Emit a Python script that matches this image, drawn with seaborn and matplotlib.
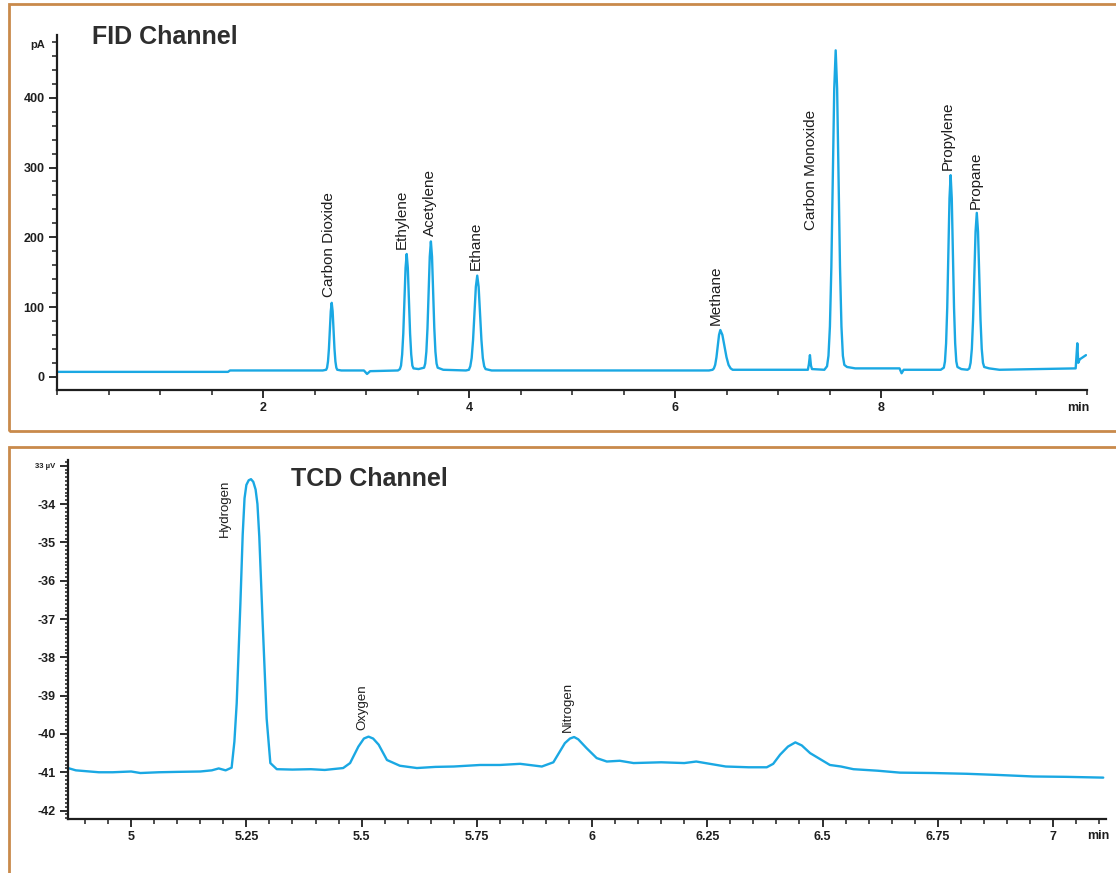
import matplotlib
matplotlib.use("Agg")
import matplotlib.pyplot as plt
import seaborn as sns
from matplotlib import font_manager
from matplotlib.patches import Rectangle
from matplotlib.ticker import MultipleLocator

# FID trace (min, pA)
fid_time = [0.0, 1.66, 1.68, 2.58,
            2.613, 2.622, 2.631, 2.640, 2.649, 2.658, 2.667, 2.676, 2.685, 2.694, 2.703, 2.712, 2.721,
            2.76, 2.98, 3.01, 3.04, 3.31,
            3.329, 3.340, 3.351, 3.362, 3.373, 3.384, 3.395, 3.406, 3.417, 3.428, 3.439, 3.450, 3.461,
            3.51,
            3.564, 3.575, 3.586, 3.597, 3.608, 3.619, 3.63, 3.641, 3.652, 3.663, 3.674, 3.685, 3.696,
            3.75, 3.97,
            3.999, 4.0125, 4.026, 4.0395, 4.053, 4.0665, 4.08, 4.0935, 4.107, 4.1205, 4.134, 4.1475, 4.161,
            4.22, 6.33,
            6.365, 6.3775, 6.39, 6.4025, 6.415, 6.4275, 6.44, 6.46, 6.48, 6.50, 6.52, 6.54, 6.56,
            6.65, 7.29, 7.30, 7.31, 7.32, 7.33, 7.45,
            7.476, 7.49, 7.504, 7.518, 7.532, 7.546, 7.56, 7.574, 7.588, 7.602, 7.616, 7.63, 7.644,
            7.67, 7.75, 8.18, 8.20, 8.22, 8.58,
            8.61, 8.621, 8.632, 8.643, 8.654, 8.665, 8.676, 8.687, 8.698, 8.709, 8.72, 8.731, 8.742,
            8.78, 8.84,
            8.858, 8.87, 8.882, 8.894, 8.906, 8.918, 8.93, 8.942, 8.954, 8.966, 8.978, 8.99, 9.002,
            9.05, 9.15, 9.89, 9.906, 9.915, 9.93, 9.96, 9.99]
fid_signal = [7, 7, 9, 9,
              10, 13, 22, 40, 68, 94, 106, 94, 68, 40, 22, 13, 10,
              9, 9, 4, 8, 9,
              11, 16, 32, 62, 111, 156, 176, 156, 111, 62, 32, 16, 12,
              11,
              13, 19, 36, 70, 123, 172, 194, 172, 123, 70, 36, 19, 13,
              10, 9,
              10, 15, 27, 53, 92, 129, 145, 129, 92, 53, 27, 15, 11,
              9, 9,
              10, 12, 17, 28, 44, 60, 67, 60, 44, 28, 17, 12, 10,
              10, 10, 18, 31, 16, 11, 10,
              15, 30, 72, 157, 289, 413, 468, 413, 289, 157, 72, 30, 17,
              14, 12, 12, 5, 10, 10,
              13, 22, 48, 99, 180, 256, 289, 256, 180, 99, 48, 22, 14,
              11, 10,
              12, 20, 40, 82, 147, 208, 235, 208, 147, 82, 40, 20, 14,
              12, 10, 12, 48, 20, 25, 28, 31]

fid_peak_names = ["Carbon Dioxide", "Ethylene", "Acetylene", "Ethane", "Methane",
                  "Carbon Monoxide", "Propylene", "Propane"]
fid_peak_time = [2.667, 3.395, 3.63, 4.08, 6.44, 7.56, 8.676, 8.93]
fid_peak_height = [106, 176, 194, 145, 67, 468, 289, 235]

# TCD trace (min, uV)
tcd_time = [4.863, 4.88, 4.90, 4.93, 4.96, 5.0, 5.02, 5.06, 5.10, 5.15, 5.175, 5.19, 5.205,
            5.218, 5.224, 5.229, 5.237, 5.242, 5.246, 5.250, 5.255, 5.260, 5.265, 5.270, 5.274,
            5.278, 5.285, 5.294, 5.302, 5.316, 5.35, 5.39, 5.42, 5.46, 5.475, 5.493, 5.505, 5.515,
            5.525, 5.537, 5.555, 5.583, 5.62, 5.66, 5.70, 5.757, 5.80, 5.844, 5.891, 5.916,
            5.941, 5.952, 5.961, 5.97, 5.988, 6.01, 6.032, 6.06, 6.09, 6.15, 6.20, 6.226,
            6.29, 6.34, 6.379, 6.393, 6.408, 6.425, 6.441, 6.455, 6.473, 6.516, 6.54, 6.567,
            6.62, 6.668, 6.74, 6.813, 6.88, 6.957, 7.03, 7.109]
tcd_signal = [-40.89, -40.95, -40.97, -41.0, -41.0, -40.98, -41.02, -41.0, -40.99, -40.98,
              -40.95, -40.9, -40.95, -40.88, -40.2, -39.2, -36.6, -34.8, -33.85, -33.5,
              -33.38, -33.35, -33.42, -33.62, -34.0, -34.85, -37.0, -39.6, -40.76, -40.92,
              -40.93, -40.92, -40.94, -40.89, -40.76, -40.33, -40.12, -40.07, -40.12, -40.28,
              -40.68, -40.83, -40.89, -40.86, -40.85, -40.81, -40.81, -40.78, -40.85, -40.74,
              -40.24, -40.12, -40.08, -40.14, -40.37, -40.63, -40.72, -40.70, -40.76, -40.74,
              -40.76, -40.72, -40.85, -40.87, -40.87, -40.78, -40.54, -40.33, -40.22, -40.3,
              -40.50, -40.81, -40.85, -40.92, -40.96, -41.01, -41.02, -41.04, -41.07, -41.11,
              -41.12, -41.14]

tcd_peak_names = ["Hydrogen", "Oxygen", "Nitrogen"]
tcd_peak_time = [5.260, 5.515, 5.961]
tcd_peak_height = [-33.35, -40.07, -40.08]

fid_yticks = [0, 100, 200, 300, 400]
tcd_yticks = [-42, -41, -40, -39, -38, -37, -36, -35, -34, -33]
tcd_ytick_labels = ["-42", "-41", "-40", "-39", "-38", "-37", "-36", "-35", "-34", "33 µV"]
tcd_xticks = [5, 5.25, 5.5, 5.75, 6, 6.25, 6.5, 6.75, 7]
tcd_xtick_labels = ["5", "5.25", "5.5", "5.75", "6", "6.25", "6.5", "6.75", "7"]


def pick_font(*names):
    for name in names:
        try:
            font_manager.findfont(name, fallback_to_default=False)
            return name
        except ValueError:
            pass
    return "DejaVu Sans"


sns.set_theme(style="white")
NARROW = pick_font("Liberation Sans Narrow", "DejaVu Sans Condensed", "Liberation Sans")
plt.rcParams["font.family"] = ["Liberation Sans", "DejaVu Sans"]
label_size = 13 if NARROW == "Liberation Sans Narrow" else 11

LINE = "#1aa8e3"
BORDER = "#c98a4b"
INK = "#1e1e1e"

fig = plt.figure(figsize=(11.16, 8.73), dpi=100)
fig.patch.set_facecolor("white")

# panel frames
fig.add_artist(Rectangle((9 / 1116, 1 - 431 / 873), 1.2, (431 - 4) / 873,
                         transform=fig.transFigure, fill=False, edgecolor=BORDER, linewidth=2))
fig.add_artist(Rectangle((9 / 1116, -0.2), 1.2, 0.2 + 1 - 447 / 873,
                         transform=fig.transFigure, fill=False, edgecolor=BORDER, linewidth=2))

ax1 = fig.add_axes([57 / 1116, 1 - 390 / 873, (1087 - 57) / 1116, (390 - 35) / 873])
ax2 = fig.add_axes([68 / 1116, 1 - 819 / 873, (1106 - 68) / 1116, (819 - 460) / 873])

sns.lineplot(x=fid_time, y=fid_signal, ax=ax1, color=LINE, linewidth=1.7, sort=False)
sns.lineplot(x=tcd_time, y=tcd_signal, ax=ax2, color=LINE, linewidth=1.7, sort=False)

ax1.set_xlim(0, 10)
ax1.set_ylim(-19, 490)
ax1.set_xticks([2, 4, 6, 8])
ax1.xaxis.set_minor_locator(MultipleLocator(0.5))
ax1.set_yticks(fid_yticks)
ax1.yaxis.set_minor_locator(MultipleLocator(20))

ax2.set_xlim(4.863, 7.115)
ax2.set_ylim(-42.22, -32.85)
ax2.set_xticks(tcd_xticks, tcd_xtick_labels)
ax2.xaxis.set_minor_locator(MultipleLocator(0.05))
ax2.set_yticks(tcd_yticks, tcd_ytick_labels)
ax2.yaxis.set_minor_locator(MultipleLocator(0.1))

for ax in (ax1, ax2):
    sns.despine(ax=ax)
    ax.set_xlabel("")
    ax.set_ylabel("")
    for side in ("left", "bottom"):
        ax.spines[side].set_color(INK)
        ax.spines[side].set_linewidth(1.6)
    ax.tick_params(which="major", direction="out", length=6, width=1.3, color=INK,
                   labelsize=9, labelcolor=INK, pad=3, left=True, bottom=True)
    ax.tick_params(which="minor", direction="out", length=3.5, width=1.1, color=INK,
                   left=True, bottom=True)
    for lab in ax.get_xticklabels() + ax.get_yticklabels():
        lab.set_fontweight("bold")
        lab.set_family([NARROW, "DejaVu Sans"])
    ax.set_facecolor("white")
ax2.tick_params(which="minor", axis="y", length=2.5)
ax2.get_yticklabels()[-1].set_fontsize(5.5)

# peak names
fid_offsets = [(-3, 6), (-5, 5), (-1, 5), (-1, 6), (-5, 5), (-25, -180), (-3, 5), (-1, 4)]
for name, t, h, off in zip(fid_peak_names, fid_peak_time, fid_peak_height, fid_offsets):
    ax1.annotate(name, (t, h), xytext=off, textcoords="offset pixels", rotation=90,
                 ha="center", va="bottom", fontsize=label_size, color=INK,
                 family=[NARROW, "DejaVu Sans"])

tcd_offsets = [(-26, 0), (-6, 7), (-6, 5)]
tcd_va = ["top", "bottom", "bottom"]
for name, t, h, off, va in zip(tcd_peak_names, tcd_peak_time, tcd_peak_height, tcd_offsets, tcd_va):
    ax2.annotate(name, (t, h), xytext=off, textcoords="offset pixels", rotation=90,
                 ha="center", va=va, fontsize=label_size - 1.5, color=INK,
                 family=[NARROW, "DejaVu Sans"])

fig.text(92 / 1116, 1 - 37 / 873, "FID Channel", fontsize=18, fontweight="bold",
         color="#2e2e2e", ha="left", va="center")
fig.text(291 / 1116, 1 - 479 / 873, "TCD Channel", fontsize=18, fontweight="bold",
         color="#2e2e2e", ha="left", va="center")
fig.text(38 / 1116, 1 - 45 / 873, "pA", fontsize=8, fontweight="bold", color=INK,
         ha="center", va="center", family=[NARROW, "DejaVu Sans"])
fig.text(1078 / 1116, 1 - 408 / 873, "min", fontsize=9, fontweight="bold", color=INK,
         ha="center", va="center", family=[NARROW, "DejaVu Sans"])
fig.text(1098 / 1116, 1 - 836 / 873, "min", fontsize=9, fontweight="bold", color=INK,
         ha="center", va="center", family=[NARROW, "DejaVu Sans"])

fig.savefig("out.png", dpi=100, facecolor="white")
